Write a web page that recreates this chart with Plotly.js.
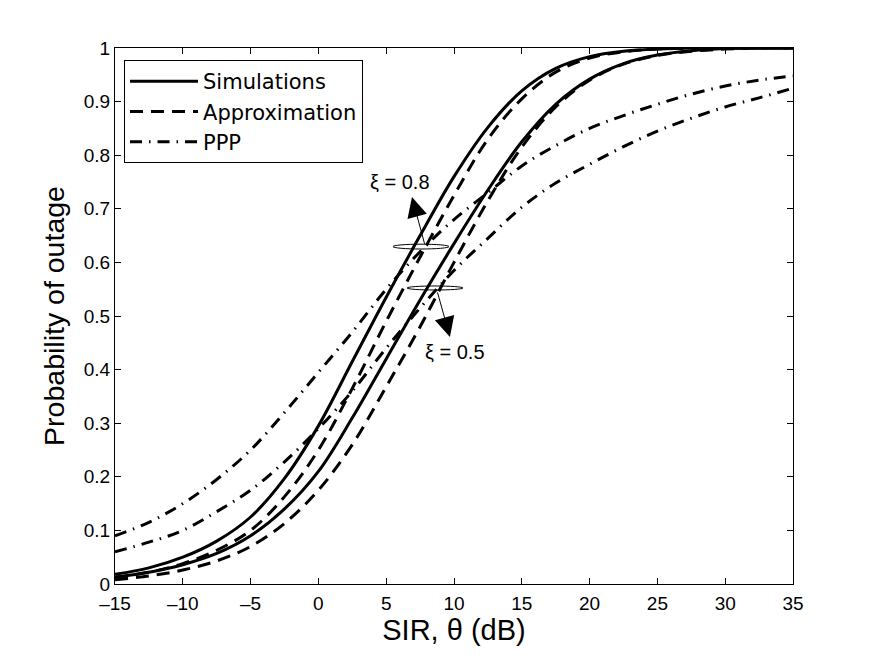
<!DOCTYPE html>
<html>
<head>
<meta charset="utf-8">
<script src="https://cdn.plot.ly/plotly-3.0.1.min.js"></script>
<style>
  html, body { margin: 0; padding: 0; background: #fff; }
  #chart { width: 875px; height: 659px; }
</style>
</head>
<body>
<div id="chart"></div>
<script>
// SIR threshold grid (dB)
const sirDb = [-15, -12.5, -10, -7.5, -5, -2.5, 0, 2.5, 5, 7.5, 10, 12.5, 15, 17.5, 20, 22.5, 25, 27.5, 30, 32.5, 35];

// Outage probability, simulated
const simXi08 = [0.018, 0.03, 0.05, 0.08, 0.125, 0.197, 0.295, 0.415, 0.535, 0.65, 0.76, 0.852, 0.92, 0.962, 0.984, 0.994, 0.998, 1, 1, 1, 1];
const simXi05 = [0.013, 0.022, 0.036, 0.057, 0.09, 0.14, 0.21, 0.31, 0.42, 0.53, 0.635, 0.735, 0.825, 0.895, 0.942, 0.971, 0.987, 0.995, 0.999, 1, 1];

// Outage probability, analytical approximation
const approxXi08 = [0.012, 0.022, 0.038, 0.063, 0.1, 0.163, 0.25, 0.365, 0.49, 0.61, 0.725, 0.83, 0.905, 0.955, 0.981, 0.993, 0.998, 1, 1, 1, 1];
const approxXi05 = [0.008, 0.015, 0.026, 0.043, 0.07, 0.113, 0.175, 0.26, 0.368, 0.48, 0.6, 0.715, 0.815, 0.89, 0.94, 0.97, 0.986, 0.994, 0.998, 1, 1];

// Outage probability, Poisson point process baseline
const pppUpper = [0.09, 0.115, 0.15, 0.195, 0.25, 0.32, 0.395, 0.47, 0.55, 0.62, 0.68, 0.73, 0.78, 0.818, 0.85, 0.874, 0.895, 0.914, 0.929, 0.94, 0.948];
const pppLower = [0.06, 0.078, 0.1, 0.135, 0.175, 0.228, 0.29, 0.36, 0.44, 0.515, 0.585, 0.645, 0.703, 0.748, 0.783, 0.816, 0.845, 0.869, 0.89, 0.907, 0.925];

const legendNames = ['Simulations', 'Approximation', 'PPP'];
const xTicks = [-15, -10, -5, 0, 5, 10, 15, 20, 25, 30, 35];
const yTicks = [0, 0.1, 0.2, 0.3, 0.4, 0.5, 0.6, 0.7, 0.8, 0.9, 1];

const styles = {
  sim:    { color: '#000', width: 3, dash: 'solid' },
  approx: { color: '#000', width: 3, dash: '13px,8px' },
  ppp:    { color: '#000', width: 3, dash: '12px,7px,1.5px,7px' }
};

function curve(y, kind, name, show) {
  return {
    x: sirDb, y: y, type: 'scatter', mode: 'lines',
    name: name, legendgroup: kind, showlegend: show,
    line: Object.assign({ shape: 'spline', smoothing: 1 }, styles[kind]),
    hoverinfo: 'skip'
  };
}

const traces = [
  curve(simXi08, 'sim', legendNames[0], true),
  curve(approxXi08, 'approx', legendNames[1], true),
  curve(pppUpper, 'ppp', legendNames[2], true),
  curve(simXi05, 'sim', legendNames[0], false),
  curve(approxXi05, 'approx', legendNames[1], false),
  curve(pppLower, 'ppp', legendNames[2], false)
];

const axisCommon = {
  showline: true, linecolor: '#000', linewidth: 1,
  mirror: 'ticks', ticks: 'inside', ticklen: 6, tickcolor: '#000',
  showgrid: false, zeroline: false,
  tickfont: { family: 'Liberation Sans, Arial, sans-serif', size: 19, color: '#000' }
};

const layout = {
  width: 875, height: 659,
  margin: { l: 115, r: 82, t: 48, b: 75 },
  paper_bgcolor: '#fff', plot_bgcolor: '#fff',
  font: { family: 'Liberation Sans, Arial, sans-serif', color: '#000' },
  xaxis: Object.assign({}, axisCommon, {
    range: [-15, 35], tickvals: xTicks, ticktext: xTicks.map(v => v < 0 ? '\u2013' + Math.abs(v) : String(v)),
    ticklabelstandoff: 2,
    title: { text: 'SIR, \u03b8 (dB)', font: { size: 29 }, standoff: 6 }
  }),
  yaxis: Object.assign({}, axisCommon, {
    range: [0, 1], tickvals: yTicks, ticktext: yTicks.map(v => String(v)),
    title: { text: 'Probability of outage', font: { size: 28.5 }, standoff: 10 }
  }),
  legend: {
    x: 0.0133, y: 0.9776, xanchor: 'left', yanchor: 'top',
    bgcolor: '#fff', bordercolor: '#000', borderwidth: 1,
    font: { family: 'DejaVu Sans, sans-serif', size: 21, color: '#000' }, itemwidth: 68, tracegroupgap: 0
  },
  shapes: [
    { type: 'circle', xref: 'x', yref: 'y', x0: 5.5, x1: 9.63, y0: 0.625, y1: 0.634, line: { color: '#000', width: 1 } },
    { type: 'circle', xref: 'x', yref: 'y', x0: 6.53, x1: 10.66, y0: 0.5485, y1: 0.556, line: { color: '#000', width: 1 } }
  ],
  annotations: [
    { x: 6.9, y: 0.722, ax: 7.86, ay: 0.632, axref: 'x', ayref: 'y', xref: 'x', yref: 'y',
      text: '', showarrow: true, arrowhead: 2, arrowsize: 4, arrowwidth: 1, arrowcolor: '#000' },
    { x: 9.7, y: 0.461, ax: 8.75, ay: 0.547, axref: 'x', ayref: 'y', xref: 'x', yref: 'y',
      text: '', showarrow: true, arrowhead: 2, arrowsize: 4, arrowwidth: 1, arrowcolor: '#000' },
    { x: 6.02, y: 0.75, xref: 'x', yref: 'y', text: '\u03be = 0.8', showarrow: false, font: { size: 20, color: '#000' } },
    { x: 10.07, y: 0.433, xref: 'x', yref: 'y', text: '\u03be = 0.5', showarrow: false, font: { size: 20, color: '#000' } }
  ]
};

Plotly.newPlot('chart', traces, layout, { displayModeBar: false, staticPlot: true });
</script>
</body>
</html>
